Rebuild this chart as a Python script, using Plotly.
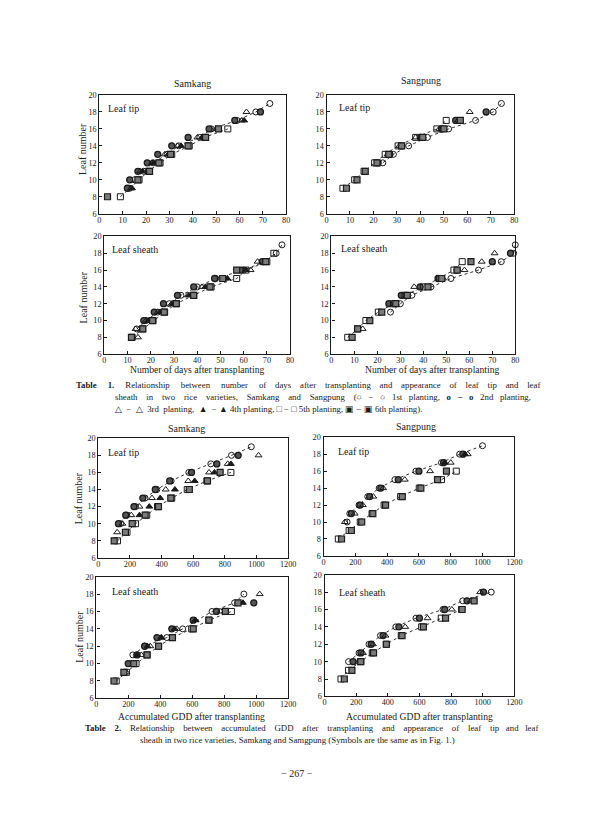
import plotly.graph_objects as go

# ---------------- data ----------------
LEAVES_TICKS = [6, 8, 10, 12, 14, 16, 18, 20]
DAY_TICKS = [0, 10, 20, 30, 40, 50, 60, 70, 80]
GDD_TICKS = [0, 200, 400, 600, 800, 1000, 1200]

# Table 1 - days after transplanting, leaf tip / leaf sheath
samkang_days_tip = {
    "1st": ([13, 15, 19, 23, 29, 34, 43, 48, 59, 67, 73], [9, 10, 11, 12, 13, 14, 15, 16, 17, 18, 19]),
    "2nd": ([12, 13, 16.5, 20.5, 25, 31, 38, 47, 58, 69], [9, 10, 11, 12, 13, 14, 15, 16, 17, 18]),
    "3rd": ([13.5, 17.5, 22.5, 28, 33.5, 42, 50, 61, 63], [9, 11, 12, 13, 14, 15, 16, 17, 18]),
    "4th": ([14, 18.5, 23, 29.5, 35, 44, 51, 62], [9, 11, 12, 13, 14, 15, 16, 17]),
    "5th": ([9, 17, 21, 26, 31, 38.5, 45, 55], [8, 10, 11, 12, 13, 14, 15, 16]),
    "6th": ([3.5, 16.5, 21.5, 25.5, 30.5, 38, 45.5, 51], [8, 10, 11, 12, 13, 14, 15, 16]),
}
sangpung_days_tip = {
    "1st": ([24, 28.5, 35, 43, 52, 63.5, 71, 74.5], [12, 13, 14, 15, 16, 17, 18, 19]),
    "2nd": ([22, 27, 32, 40, 49, 55, 68], [12, 13, 14, 15, 16, 17, 18]),
    "3rd": ([26, 31, 38, 48, 56, 61], [13, 14, 15, 16, 17, 18]),
    "5th": ([7, 12, 16, 20.5, 25, 30.5, 38, 47, 51], [9, 10, 11, 12, 13, 14, 15, 16, 17]),
    "6th": ([8.5, 13, 16.5, 21.5, 26.5, 32, 41, 50, 57], [9, 10, 11, 12, 13, 14, 15, 16, 17]),
}
samkang_days_sheath = {
    "1st": ([14, 18, 23, 28, 33, 40, 48, 60, 69, 74, 76.5], [9, 10, 11, 12, 13, 14, 15, 16, 17, 18, 19]),
    "2nd": ([17, 21.5, 25.5, 31.5, 38.5, 47.5, 59, 68], [10, 11, 12, 13, 14, 15, 16, 17]),
    "3rd": ([14.5, 13.5, 18, 23, 29, 36, 42, 52, 63, 66], [8, 9, 10, 11, 12, 13, 14, 15, 16, 17]),
    "4th": ([19, 24, 29.5, 36.5, 43.5, 53, 61], [10, 11, 12, 13, 14, 15, 16]),
    "5th": ([12, 16.5, 21, 26, 31, 38.5, 46, 57, 61, 70, 73], [8, 9, 10, 11, 12, 13, 14, 15, 16, 17, 18]),
    "6th": ([11.7, 16.6, 20.8, 25.8, 31, 38.5, 45.5, 51, 57, 69.5], [8, 9, 10, 11, 12, 13, 14, 15, 16, 17]),
}
sangpung_days_sheath = {
    "1st": ([25.7, 30, 35, 43.3, 52, 64, 73.9, 79.3, 80], [11, 12, 13, 14, 15, 16, 17, 18, 19]),
    "2nd": ([25, 30.4, 38.6, 46.4, 54.7, 70, 77.9], [12, 13, 14, 15, 16, 17, 18]),
    "3rd": ([13.6, 27.9, 32.9, 36, 48.6, 57.9, 65.4, 71], [9, 12, 13, 14, 15, 16, 17, 18]),
    "5th": ([7.1, 11.4, 15, 20.4, 27, 32, 40, 47, 53.3, 56.9], [8, 9, 10, 11, 12, 13, 14, 15, 16, 17]),
    "6th": ([9, 11.4, 16.7, 21.9, 28, 33, 42, 48, 54.7, 60.7], [8, 9, 10, 11, 12, 13, 14, 15, 16, 17]),
}

# Table 2 - accumulated GDD after transplanting
samkang_gdd_tip = {
    "1st": ([140, 180, 235, 295, 370, 460, 572, 711, 842, 967], [10, 11, 12, 13, 14, 15, 16, 17, 18, 19]),
    "2nd": ([127, 173, 225, 281, 360, 451, 589, 749, 884], [10, 11, 12, 13, 14, 15, 16, 17, 18]),
    "3rd": ([119, 152, 208, 260, 339, 426, 568, 700, 818, 1013], [9, 10, 11, 12, 13, 14, 15, 16, 17, 18]),
    "4th": ([260, 322, 391, 484, 609, 734, 838], [11, 12, 13, 14, 15, 16, 17]),
    "5th": ([121, 181, 235, 306, 374, 464, 562, 686, 838], [8, 9, 10, 11, 12, 13, 14, 15, 16]),
    "6th": ([100, 171, 214, 296, 380, 458, 575, 690, 770], [8, 9, 10, 11, 12, 13, 14, 15, 16]),
}
sangpung_gdd_tip = {
    "1st": ([148, 165, 223, 278, 350, 449, 581, 742, 856, 1000], [10, 11, 12, 13, 14, 15, 16, 17, 18, 19]),
    "2nd": ([175, 230, 290, 360, 470, 600, 755, 876], [11, 12, 13, 14, 15, 16, 17, 18]),
    "3rd": ([134, 196, 247, 313, 375, 511, 670, 800, 907], [10, 11, 12, 13, 14, 15, 16, 17, 18]),
    "4th": ([763, 890], [17, 18]),
    "5th": ([93, 161, 231, 305, 381, 485, 602, 742, 835], [8, 9, 10, 11, 12, 13, 14, 15, 16]),
    "6th": ([113, 175, 240, 310, 390, 495, 612, 717, 773], [8, 9, 10, 11, 12, 13, 14, 15, 16]),
}
samkang_gdd_sheath = {
    "1st": ([228, 302, 441, 540, 724, 865, 923], [11, 12, 13, 14, 16, 17, 18]),
    "2nd": ([199, 254, 302, 379, 472, 606, 751, 985], [10, 11, 12, 13, 14, 15, 16, 17]),
    "3rd": ([188, 281, 337, 406, 503, 620, 778, 886, 1022], [9, 11, 12, 13, 14, 15, 16, 17, 18]),
    "4th": ([254, 320, 406, 490, 620, 807, 917], [11, 12, 13, 14, 15, 16, 17]),
    "5th": ([124, 188, 248, 317, 389, 476, 596, 704, 845], [8, 9, 10, 11, 12, 13, 14, 15, 16]),
    "6th": ([110, 172, 234, 317, 389, 476, 606, 704, 807, 886], [8, 9, 10, 11, 12, 13, 14, 15, 16, 17]),
}
sangpung_gdd_sheath = {
    "1st": ([152, 218, 281, 354, 451, 578, 749, 874, 1054], [10, 11, 12, 13, 14, 15, 16, 17, 18]),
    "2nd": ([181, 230, 295, 370, 470, 600, 760, 901, 1005], [10, 11, 12, 13, 14, 15, 16, 17, 18]),
    "3rd": ([214, 243, 306, 385, 510, 651, 805, 926, 984], [10, 11, 12, 13, 14, 15, 16, 17, 18]),
    "5th": ([104, 152, 229, 302, 391, 485, 614, 738, 867], [8, 9, 10, 11, 12, 13, 14, 15, 16]),
    "6th": ([125, 173, 229, 310, 391, 490, 625, 765, 870, 946], [8, 9, 10, 11, 12, 13, 14, 15, 16, 17]),
}

# caption lines (text) and how many extra spaces justify them
caption_lines = [
    "<b>Table 1.</b> Relationship between number of days after transplanting and appearance of leaf tip and leaf",
    "sheath in two rice varieties, Samkang and Sangpung (○ − ○ 1st planting, <b>o − o</b> 2nd planting,",
    "△ − △ 3rd planting, ▲ − ▲ 4th planting, □ − □ 5th planting, ▣ − ▣ 6th planting).",
    "<b>Table 2.</b> Relationship between accumulated GDD after transplanting and appearance of leaf tip and leaf",
    "sheath in two rice varieties, Samkang and Samgpung (Symbols are the same as in Fig. 1.)",
]
caption_pad = [50, 42, 6, 40, 0]

# ---------------- styling ----------------
W, H = 600, 828
FONT = "Liberation Serif, Times New Roman, serif"
INK = "#1a1a1a"

MARK = {
    "1st": dict(symbol="circle-open", color=INK, size=6, line=dict(width=1, color=INK)),
    "2nd": dict(symbol="circle", color="#555555", size=6, line=dict(width=1.3, color=INK)),
    "3rd": dict(symbol="triangle-up-open", color=INK, size=6, line=dict(width=1, color=INK)),
    "4th": dict(symbol="triangle-up", color=INK, size=6, line=dict(width=1, color=INK)),
    "5th": dict(symbol="square-open", color=INK, size=6, line=dict(width=1, color=INK)),
    "6th": dict(symbol="square", color="#7a7a7a", size=6, line=dict(width=1.2, color=INK)),
}
LINED = {"1st", "5th"}

# panels: (data, x-ticks, xmax, pixel box left, right, top, bottom)
panels = [
    (samkang_days_tip, DAY_TICKS, 80, 99, 289, 92, 212),
    (sangpung_days_tip, DAY_TICKS, 80, 330, 521, 92, 212),
    (samkang_days_sheath, DAY_TICKS, 80, 104, 293, 235, 354),
    (sangpung_days_sheath, DAY_TICKS, 80, 335, 522, 235, 354),
    (samkang_gdd_tip, GDD_TICKS, 1200, 98, 291, 439, 560),
    (sangpung_gdd_tip, GDD_TICKS, 1200, 327, 521, 438, 558),
    (samkang_gdd_sheath, GDD_TICKS, 1200, 96, 291, 579, 702),
    (sangpung_gdd_sheath, GDD_TICKS, 1200, 328, 521, 577, 700),
]

fig = go.Figure()
layout = {}
for i, (data, xt, xmax, l, r, t, b) in enumerate(panels, start=1):
    sfx = "" if i == 1 else str(i)
    xa, ya = "x" + sfx, "y" + sfx
    for name, (xs, ys) in data.items():
        m = MARK[name]
        fig.add_trace(go.Scatter(
            x=xs, y=ys, xaxis=xa, yaxis=ya,
            mode="lines+markers" if name in LINED else "markers",
            line=dict(color="#333", width=1, dash="dot"),
            marker=dict(symbol=m["symbol"], color=m["color"], size=m["size"], line=m["line"]),
            showlegend=False, name=name, cliponaxis=False,
        ))
    common = dict(showline=True, mirror=True, linecolor=INK, linewidth=1.2,
                  ticks="inside", ticklen=3, tickcolor=INK, showgrid=False, zeroline=False,
                  tickfont=dict(family=FONT, size=8.2, color=INK))
    layout["xaxis" + sfx] = dict(common, domain=[l / W, r / W], range=[0, xmax],
                                 tickvals=xt, anchor=ya, ticklabelstandoff=-2)
    layout["yaxis" + sfx] = dict(common, domain=[1 - b / H, 1 - t / H], range=[6, 20],
                                 tickvals=LEAVES_TICKS, anchor=xa, ticklabelstandoff=0)

ann = []
def txt(x, y, s, size=10, xanchor="center", angle=0, yanchor="middle"):
    ann.append(dict(x=x / W, y=1 - y / H, xref="paper", yref="paper", text=s, showarrow=False,
                    xanchor=xanchor, yanchor=yanchor, textangle=angle,
                    font=dict(family=FONT, size=size, color=INK)))

def justify(line, extra):
    # spread `extra` non-breaking spaces over the word gaps of a line
    words = line.split(" ")
    gaps = len(words) - 1
    out = words[0]
    for k in range(gaps):
        n = extra // gaps + (1 if k < extra % gaps else 0)
        out += " " + "\u00a0" * n + words[k + 1]
    return out

# titles
txt(194, 80, "Samkang"); txt(426, 77, "Sangpung")
txt(188, 429, "Samkang"); txt(421, 427, "Sangpung")
# in-panel labels
txt(106, 106, "Leaf tip", xanchor="left"); txt(341, 105, "Leaf tip", xanchor="left")
txt(110, 248, "Leaf sheath", xanchor="left"); txt(343, 247, "Leaf sheath", xanchor="left")
txt(106, 453, "Leaf tip", xanchor="left"); txt(340, 452, "Leaf tip", xanchor="left")
txt(110, 594, "Leaf sheath", xanchor="left"); txt(341, 595, "Leaf sheath", xanchor="left")
# y titles
for xx, yy in ((82, 147), (83, 297), (78, 500), (78, 640)):
    txt(xx, yy, "Leaf number", angle=-90)
# x titles
txt(198, 369.5, "Number of days after transplanting", size=9.6)
txt(437, 369.5, "Number of days after transplanting", size=9.6)
txt(193, 720, "Accumulated GDD after transplanting", size=9.6)
txt(425, 720, "Accumulated GDD after transplanting", size=9.6)
# captions
cap_pos = [(73, 385), (113, 397), (113, 409), (82, 732), (138, 744)]
for (cx, cy), line, pad in zip(cap_pos, caption_lines, caption_pad):
    txt(cx, cy, justify(line, pad), size=8.8, xanchor="left")
txt(300, 778, "− 267 −", size=10)

fig.update_layout(width=W, height=H, margin=dict(l=0, r=0, t=0, b=0),
                  paper_bgcolor="white", plot_bgcolor="white", annotations=ann, **layout)
fig.write_html("out.html", config={"displayModeBar": False},
               post_script="document.body.style.margin='0';document.body.style.overflow='hidden';")
